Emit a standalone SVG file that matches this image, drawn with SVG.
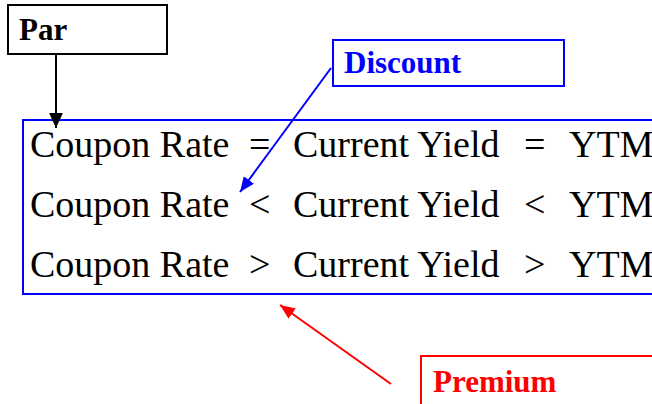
<svg xmlns="http://www.w3.org/2000/svg" width="652" height="404" viewBox="0 0 652 404">
  <style>
    .box { fill: #ffffff; stroke-width: 2; }
    .eq { font-family: "Liberation Serif", "Times New Roman", serif; font-size: 38px; fill: #000000; }
    .lbl { font-family: "Liberation Serif", "Times New Roman", serif; font-weight: bold; font-size: 31px; }
    .conn { fill: none; stroke-width: 2; }
  </style>
  <defs>
    <marker id="headBlack" viewBox="0 0 10 10" refX="10" refY="5" markerWidth="15" markerHeight="15" markerUnits="userSpaceOnUse" orient="auto">
      <path d="M0,0.4 L10,5 L0,9.6 z" fill="#000000"/>
    </marker>
    <marker id="headBlue" viewBox="0 0 10 10" refX="10" refY="5" markerWidth="15" markerHeight="15" markerUnits="userSpaceOnUse" orient="auto">
      <path d="M0,0.8 L10,5 L0,9.2 z" fill="#0000ff"/>
    </marker>
    <marker id="headRed" viewBox="0 0 10 10" refX="10" refY="5" markerWidth="15" markerHeight="15" markerUnits="userSpaceOnUse" orient="auto">
      <path d="M0,0.8 L10,5 L0,9.2 z" fill="#ff0000"/>
    </marker>
  </defs>
  <rect width="652" height="404" fill="#ffffff"/>

  <!-- relations between coupon rate, current yield and YTM -->
  <g id="relations">
    <rect class="box" x="23" y="120" width="640" height="174" stroke="#0000ff"/>
    <g class="eq">
      <text x="30" y="157">Coupon Rate</text>
      <text x="249" y="157">=</text>
      <text x="293" y="157">Current Yield</text>
      <text x="524" y="157">=</text>
      <text x="569" y="157">YTM</text>

      <text x="30" y="217">Coupon Rate</text>
      <text x="249" y="217">&lt;</text>
      <text x="293" y="217">Current Yield</text>
      <text x="524" y="217">&lt;</text>
      <text x="569" y="217">YTM</text>

      <text x="30" y="277">Coupon Rate</text>
      <text x="249" y="277">&gt;</text>
      <text x="293" y="277">Current Yield</text>
      <text x="524" y="277">&gt;</text>
      <text x="569" y="277">YTM</text>
    </g>
  </g>

  <g id="par">
    <rect class="box" x="8" y="5" width="159" height="49" stroke="#000000"/>
    <text class="lbl" x="19" y="40" fill="#000000">Par</text>
  </g>

  <g id="discount">
    <rect class="box" x="333" y="40" width="231" height="46" stroke="#0000ff"/>
    <text class="lbl" x="344" y="73" fill="#0000ff">Discount</text>
  </g>

  <g id="premium">
    <rect class="box" x="421" y="356" width="240" height="60" stroke="#ff0000"/>
    <text class="lbl" x="433" y="392" fill="#ff0000">Premium</text>
  </g>

  <g id="connectors">
    <line class="conn" x1="56" y1="54" x2="56" y2="128" stroke="#000000" marker-end="url(#headBlack)"/>
    <line class="conn" x1="331" y1="68" x2="240" y2="192" stroke="#0000ff" marker-end="url(#headBlue)"/>
    <line class="conn" x1="391" y1="384" x2="280" y2="305" stroke="#ff0000" marker-end="url(#headRed)"/>
  </g>
</svg>
